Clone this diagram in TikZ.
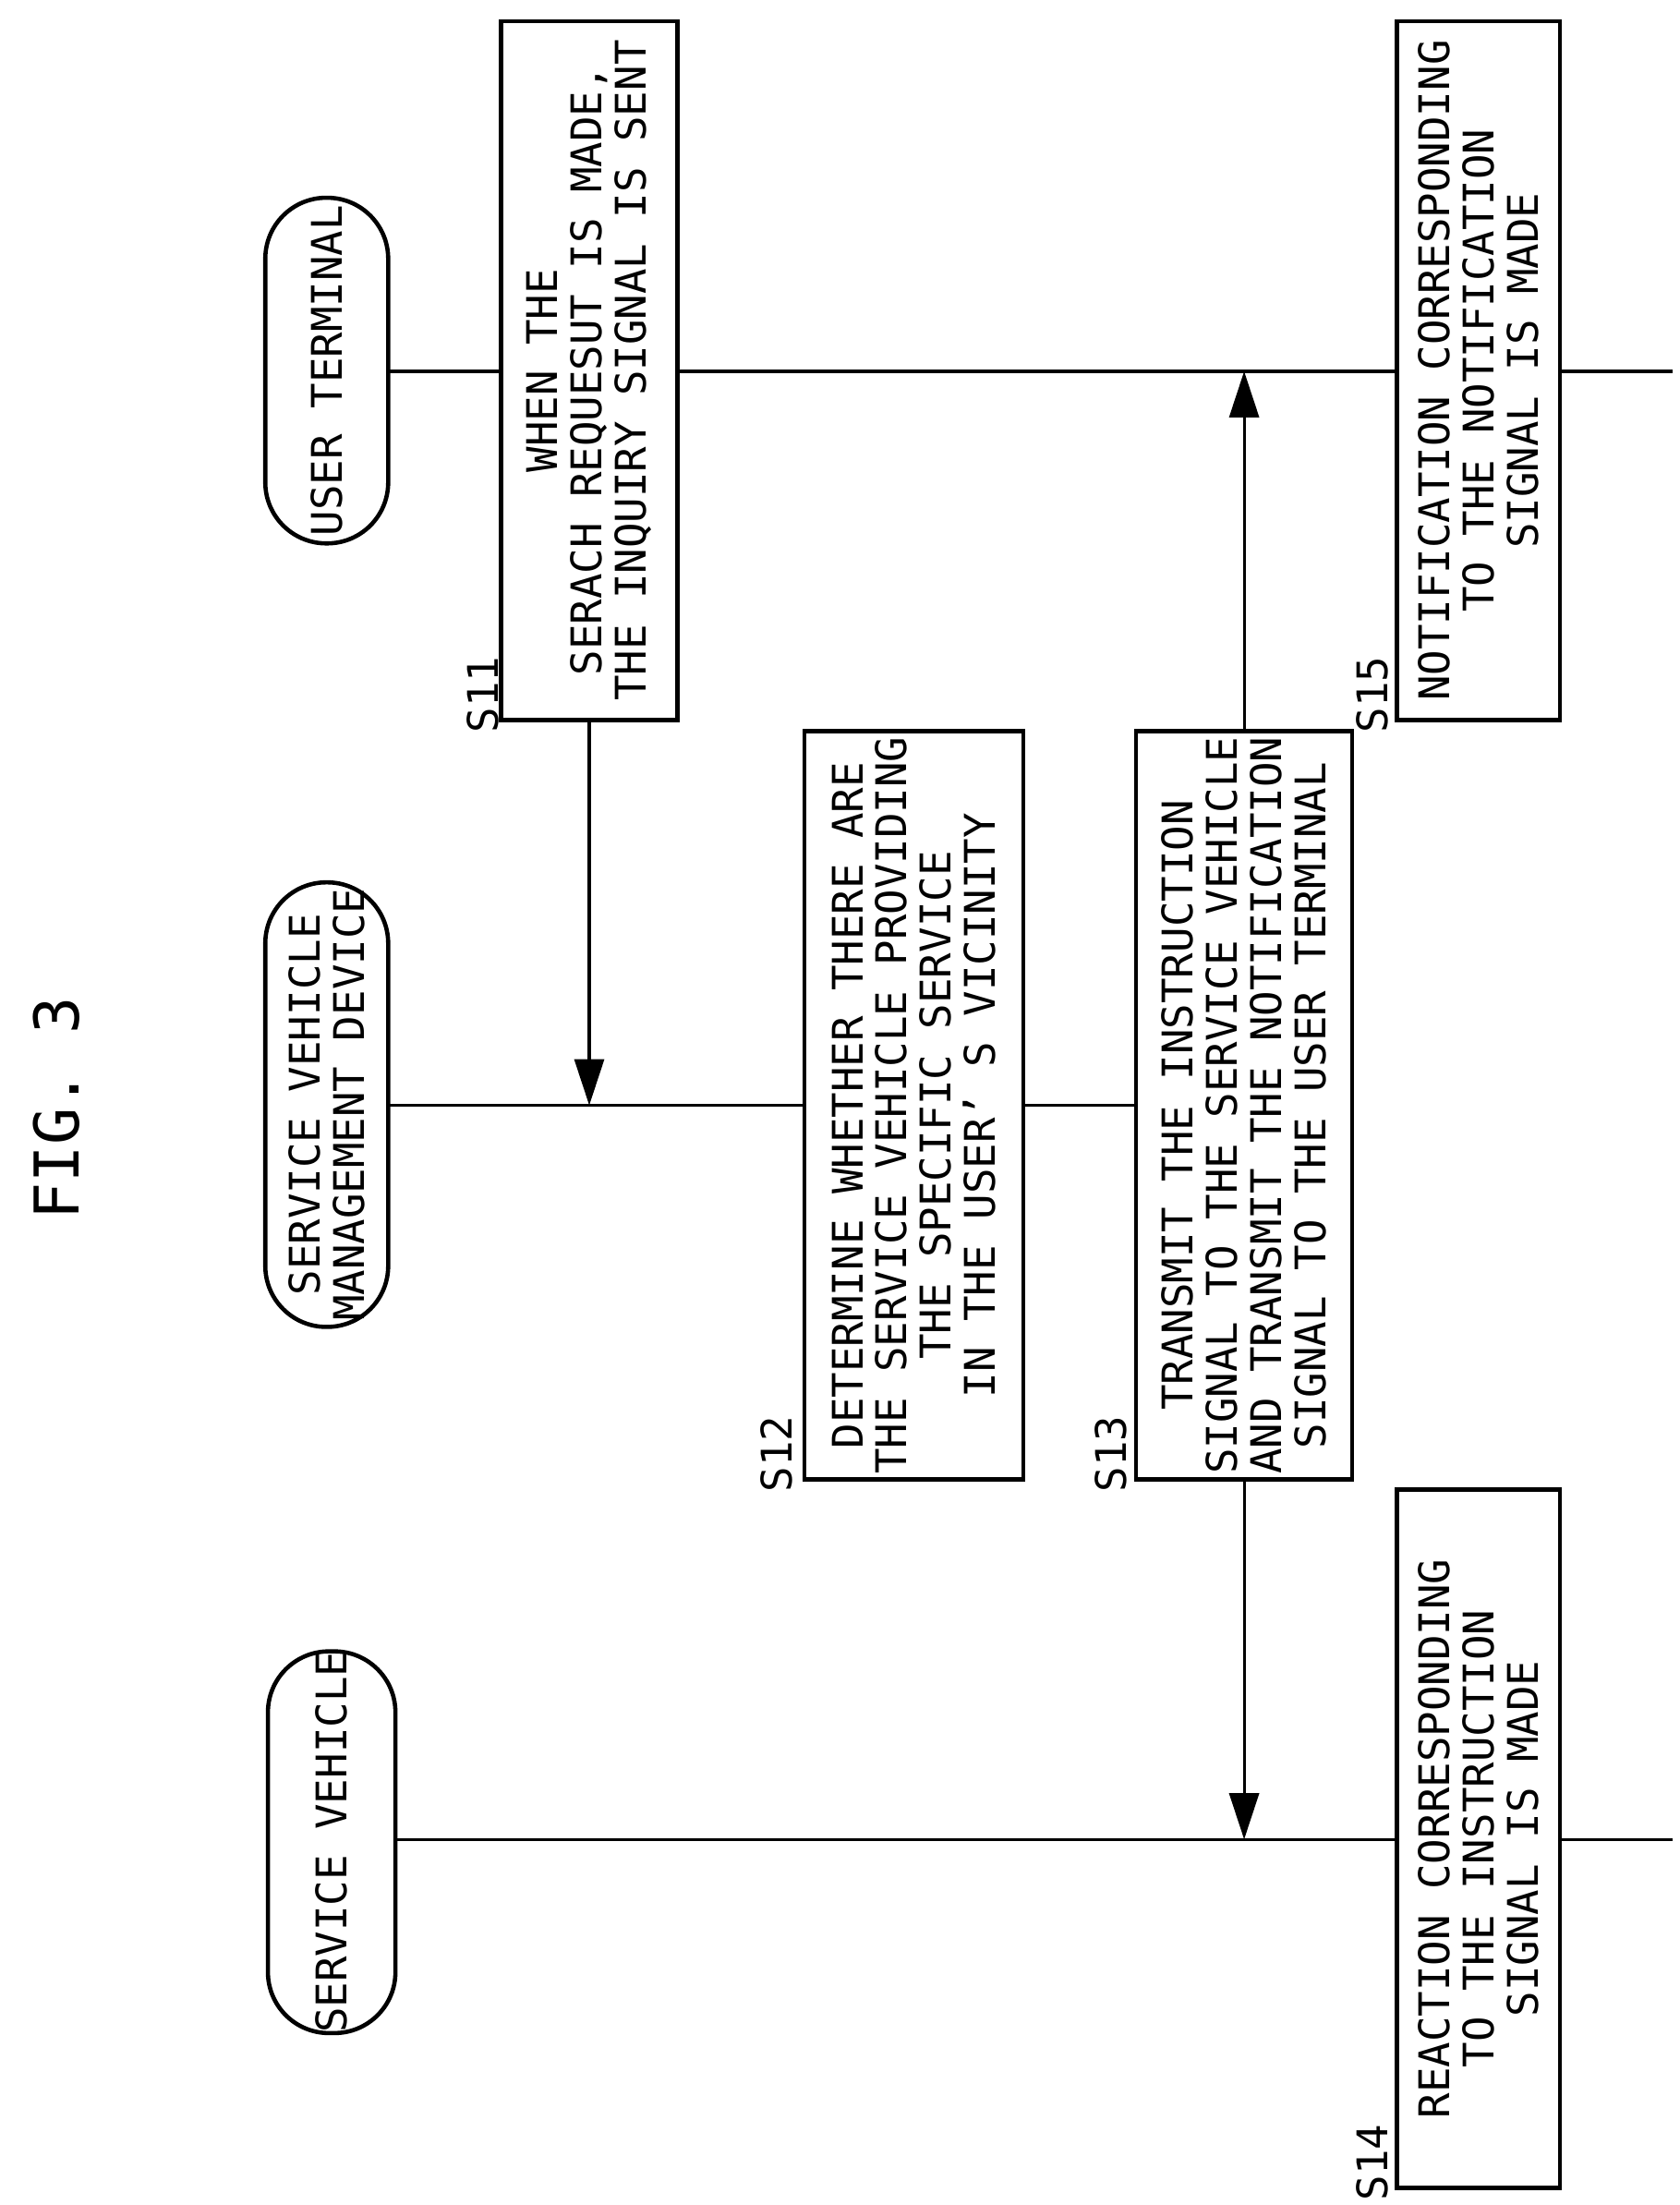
\documentclass[tikz,border=0pt]{standalone}
\usepackage{fontspec}
\setmainfont{DejaVu Sans Mono}
\usetikzlibrary{arrows.meta}
\begin{document}
\begin{tikzpicture}[x=0.01528cm,y=-0.01528cm,
  txt/.style={font=\fontsize{13}{13.6}\selectfont},
  box/.style={draw,line width=1.3pt,fill=white,rotate=90,align=center,inner sep=0pt,txt},
  pill/.style={box,rounded corners=0.66cm},
  lbl/.style={rotate=90,txt,inner sep=0pt},
  life/.style={line width=0.9pt},
  arr/.style={line width=0.9pt,-{Triangle[length=0.5cm,width=0.32cm]}}]
\useasboundingbox (0,0) rectangle (1190,1562);
\node[rotate=90,font=\fontsize{19}{20}\selectfont] (title) at (40,785) {FIG. 3};
% lifelines
\coordinate (u0) at (275,263); \coordinate (u1) at (1185,263);
\coordinate (m0) at (275,783); \coordinate (m1) at (805,783);
\coordinate (v0) at (280,1303); \coordinate (v1) at (1185,1303);
\draw[life] (u0) -- (u1);
\draw[life] (m0) -- (m1);
\draw[life] (v0) -- (v1);
% headers
\node[pill,minimum width=3.74cm,minimum height=1.33cm] (ut) at (231.5,262.5) {USER TERMINAL};
\node[pill,minimum width=4.81cm,minimum height=1.33cm] (md) at (231.5,782.5) {SERVICE VEHICLE\\MANAGEMENT DEVICE};
\node[pill,minimum width=4.13cm,minimum height=1.38cm] (sv) at (235,1305) {SERVICE VEHICLE};
% boxes
\node[box,minimum width=7.56cm,minimum height=1.91cm] (s11) at (417.5,262.5) {WHEN THE\\SERACH REQUESUT IS MADE,\\THE INQUIRY SIGNAL IS SENT};
\node[box,minimum width=8.10cm,minimum height=2.37cm] (s12) at (647.5,783) {DETERMINE WHETHER THERE ARE\\THE SERVICE VEHICLE PROVIDING\\THE SPECIFIC SERVICE\\IN THE USER' S VICINITY};
\node[box,minimum width=8.10cm,minimum height=2.34cm] (s13) at (881.5,783) {TRANSMIT THE INSTRUCTION\\SIGNAL TO THE SERVICE VEHICLE\\AND TRANSMIT THE NOTIFICATION\\SIGNAL TO THE USER TERMINAL};
\node[box,minimum width=7.56cm,minimum height=1.76cm] (s14) at (1047.5,1302.5) {REACTION CORRESPONDING\\TO THE INSTRUCTION\\SIGNAL IS MADE};
\node[box,minimum width=7.56cm,minimum height=1.76cm] (s15) at (1047.5,262.5) {NOTIFICATION CORRESPONDING\\TO THE NOTIFICATION\\SIGNAL IS MADE};
% labels
\node[lbl] (l11) at (342,492) {S11};
\node[lbl] (l12) at (550,1030) {S12};
\node[lbl] (l13) at (787,1030) {S13};
\node[lbl] (l14) at (972,1532) {S14};
\node[lbl] (l15) at (972,492) {S15};
% arrows
\draw[arr] (s11.west) -- (s11.west |- m0);
\draw[arr] (s13.east) -- (s13.east |- u0);
\draw[arr] (s13.west) -- (s13.west |- v0);
\end{tikzpicture}
\end{document}
